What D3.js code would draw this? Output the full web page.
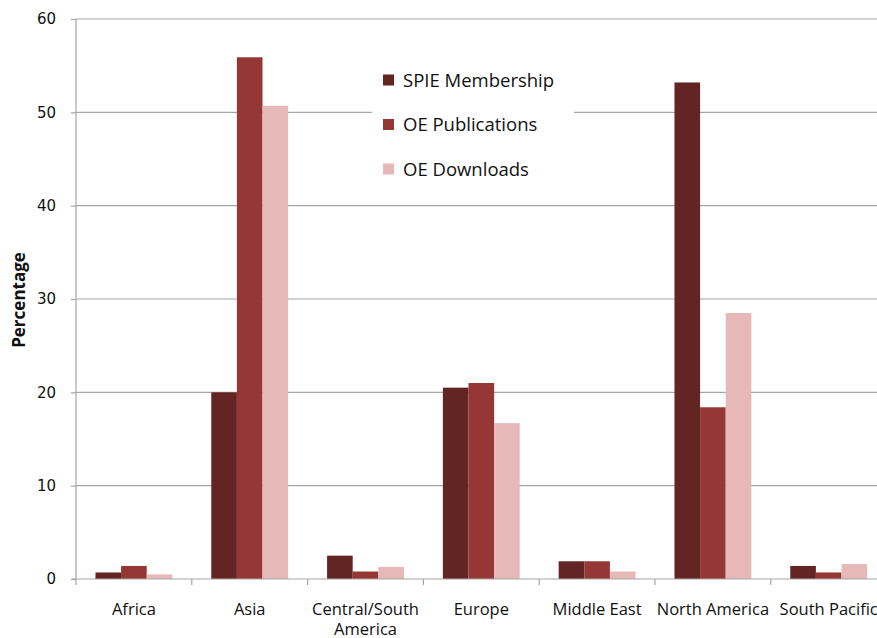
<!DOCTYPE html>
<html><head><meta charset="utf-8">
<script src="https://cdn.jsdelivr.net/npm/d3@7"></script>
<style>body{margin:0;background:#fff;} svg{display:block;}</style>
</head><body>
<svg id="chart" width="877" height="638"></svg>
<script>
const categories = ["Africa","Asia","Central/South America","Europe","Middle East","North America","South Pacific"];
const seriesNames = ["SPIE Membership","OE Publications","OE Downloads"];
const spieMembership = [0.7, 20.0, 2.5, 20.5, 1.9, 53.2, 1.4];
const oePublications = [1.4, 55.9, 0.8, 21.0, 1.9, 18.4, 0.7];
const oeDownloads   = [0.5, 50.7, 1.3, 16.7, 0.8, 28.5, 1.6];
const yTicks = [0,10,20,30,40,50,60];
const colors = ["#632523","#953735","#E6B9B8"];

(function(){
const series = [spieMembership, oePublications, oeDownloads];
const svg = d3.select("#chart");
const mLeft = 76, mTop = 19, mBottom = 579;
const bandW = 115.8;
const x = d3.scaleBand().domain(categories).range([mLeft, mLeft + bandW*categories.length]).paddingInner(0).paddingOuter(0);
const y = d3.scaleLinear().domain([0,60]).range([mBottom, mTop]);
const xs = d3.scaleBand().domain(d3.range(3)).range([0, x.bandwidth()]).paddingInner(0).paddingOuter(0.76);

// gridlines
svg.append("g").selectAll("line").data(yTicks.filter(d=>d>0)).join("line")
  .attr("x1", mLeft).attr("x2", 877).attr("y1", d=>y(d)).attr("y2", d=>y(d))
  .attr("stroke", "#a6a6a6").attr("stroke-width", 1.2);

// bars
categories.forEach((c, i) => {
  series.forEach((s, j) => {
    svg.append("rect")
      .attr("x", x(c) + xs(j)).attr("width", xs.bandwidth())
      .attr("y", y(s[i])).attr("height", y(0) - y(s[i]))
      .attr("fill", colors[j]);
  });
});

// y axis
const yAxis = svg.append("g").attr("transform", `translate(${mLeft},0)`)
  .call(d3.axisLeft(y).tickValues(yTicks).tickSize(5).tickPadding(15));
yAxis.select(".domain").attr("stroke", "#a6a6a6").attr("stroke-width", 1.2).attr("d", `M0,${mTop}V${mBottom}`);
yAxis.selectAll(".tick line").attr("stroke", "#a6a6a6").attr("stroke-width", 1.2);
yAxis.selectAll(".tick text").attr("font-family", "DejaVu Sans, sans-serif").attr("font-size", 15).attr("fill", "#111");

// x axis
const xAxis = svg.append("g").attr("transform", `translate(0,${mBottom})`)
  .call(d3.axisBottom(x).tickSize(0).tickPadding(0));
xAxis.select(".domain").attr("stroke", "#a6a6a6").attr("stroke-width", 1.2).attr("d", `M${mLeft-4},0H877`);
xAxis.selectAll(".tick text").remove();
// category boundary ticks
svg.append("g").selectAll("line").data(categories).join("line")
  .attr("x1", d=>x(d)).attr("x2", d=>x(d)).attr("y1", mBottom).attr("y2", mBottom+6)
  .attr("stroke", "#a6a6a6").attr("stroke-width", 1.2);
// category labels
const labelG = svg.append("g");
categories.forEach(c => {
  const cx = x(c) + x.bandwidth()/2;
  const lines = c === "Central/South America" ? ["Central/South","America"] : [c];
  lines.forEach((t, k) => {
    labelG.append("text").attr("x", cx).attr("y", 615 + k*20)
      .attr("text-anchor", "middle")
      .attr("font-family", "Open Sans, sans-serif").attr("font-size", 16.5).attr("fill", "#111")
      .text(t);
  });
});

// y axis title
svg.append("text").attr("transform", "translate(25,300) rotate(-90)")
  .attr("text-anchor", "middle").attr("font-family", "Open Sans, sans-serif")
  .attr("font-weight", "bold").attr("font-size", 17).attr("fill", "#111").text("Percentage");

// legend
const lg = svg.append("g");
lg.append("rect").attr("x", 372).attr("y", 58).attr("width", 202).attr("height", 134).attr("fill", "#fff");
seriesNames.forEach((n, j) => {
  const cy = 80 + j*44.5;
  lg.append("rect").attr("x", 383).attr("y", cy - 5.5).attr("width", 11).attr("height", 11).attr("fill", colors[j]);
  lg.append("text").attr("x", 403).attr("y", cy + 6.5).attr("font-family", "Open Sans, sans-serif")
    .attr("font-size", 18.5).attr("fill", "#111").text(n);
});
})();
</script>
</body></html>
